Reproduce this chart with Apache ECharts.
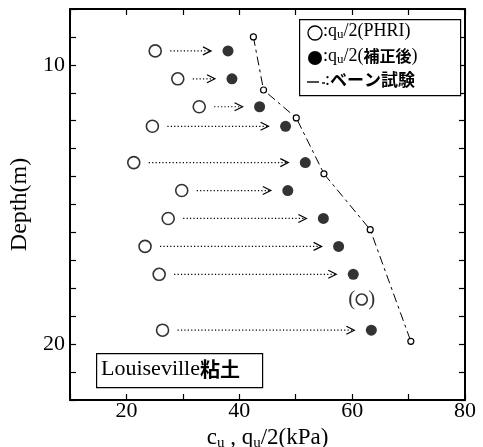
<!DOCTYPE html>
<html>
<head>
<meta charset="utf-8">
<script src="https://cdn.jsdelivr.net/npm/echarts@6/dist/echarts.min.js"></script>
<style>
  html, body { margin: 0; padding: 0; background: #fff; }
  #chart { width: 483px; height: 447px; }
</style>
</head>
<body>
<div id="chart"></div>
<script>
// depth (m) of each test pair
const depths = [9.5, 10.5, 11.5, 12.2, 13.5, 14.5, 15.5, 16.5, 17.5, 19.5];
// qu/2 (PHRI), open circles
const quPHRI = [25.1, 29.1, 32.9, 24.6, 21.3, 29.8, 27.4, 23.3, 25.8, 26.4];
// qu/2 corrected, filled circles
const quCorr = [38.0, 38.7, 43.6, 48.2, 51.7, 48.6, 54.9, 57.6, 60.2, 63.4];
// bracketed PHRI point
const bracketPoint = [61.7, 18.4];
// vane test
const vaneDepth = [9.0, 10.9, 11.9, 13.9, 15.9, 19.9];
const vaneCu = [42.5, 44.3, 50.1, 55.0, 63.2, 70.4];

const serif = '"Liberation Serif", "Times New Roman", serif';
const cjk = '"Noto Sans CJK JP", sans-serif';

const chart = echarts.init(document.getElementById('chart'));

const axisCommon = {
    axisLine: { show: true, onZero: false, lineStyle: { color: '#000', width: 2 } },
    axisTick: { show: true, inside: true, length: 6, lineStyle: { color: '#000', width: 1.2 } },
    splitLine: { show: false }
};

const option = {
    animation: false,
    backgroundColor: '#fff',
    grid: { left: 70, right: 18, top: 9, bottom: 47, outerBoundsMode: 'none', containLabel: false },
    xAxis: [
        Object.assign({
            type: 'value', min: 10, max: 80, interval: 10, position: 'bottom',
            name: '{t|c}{s|u}{t| , q}{s|u}{t|/2(kPa)}',
            nameLocation: 'middle', nameGap: 11,
            nameTextStyle: {
                rich: {
                    t: { fontFamily: serif, fontSize: 23, color: '#000' },
                    s: { fontFamily: serif, fontSize: 15, color: '#000', padding: [9, 0, 0, 0] }
                }
            },
            axisLabel: {
                color: '#000', fontFamily: serif, fontSize: 22, margin: 0,
                formatter: v => (v % 20 === 0 ? String(v) : '')
            }
        }, axisCommon),
        Object.assign({
            type: 'value', min: 10, max: 80, interval: 10, position: 'top',
            axisLabel: { show: false }
        }, axisCommon)
    ],
    yAxis: [
        Object.assign({
            type: 'value', min: 8, max: 22, interval: 1, inverse: true, position: 'left',
            name: 'Depth(m)', nameLocation: 'middle', nameGap: 34, nameRotate: 90,
            nameTextStyle: { fontFamily: serif, fontSize: 24, color: '#000' },
            axisLabel: {
                color: '#000', fontFamily: serif, fontSize: 22, margin: 5,
                formatter: v => (v === 10 || v === 20 ? String(v) : '')
            }
        }, axisCommon),
        Object.assign({
            type: 'value', min: 8, max: 22, interval: 1, inverse: true, position: 'right',
            axisLabel: { show: false }
        }, axisCommon)
    ],
    series: [
        {
            name: 'arrows',
            type: 'custom',
            silent: true,
            data: depths.map((d, i) => [quPHRI[i], quCorr[i], d]),
            renderItem: function (params, api) {
                const p1 = api.coord([api.value(0), api.value(2)]);
                const p2 = api.coord([api.value(1), api.value(2)]);
                const x1 = p1[0] + 15, x2 = p2[0] - 17, y = p1[1];
                return {
                    type: 'group',
                    children: [
                        {
                            type: 'line',
                            shape: { x1: x1, y1: y, x2: x2 - 1, y2: y },
                            style: { stroke: '#000', lineWidth: 1.2, lineDash: [1.2, 2.2] }
                        },
                        {
                            type: 'polyline',
                            shape: { points: [[x2 - 8, y - 4], [x2, y], [x2 - 8, y + 4]] },
                            style: { stroke: '#000', lineWidth: 1.2, fill: null }
                        }
                    ]
                };
            },
            z: 1
        },
        {
            name: 'vane',
            type: 'line',
            data: vaneCu.map((v, i) => [v, vaneDepth[i]]),
            symbol: 'circle',
            symbolSize: 6,
            itemStyle: { color: '#fff', borderColor: '#000', borderWidth: 1.2 },
            lineStyle: { color: '#000', width: 1, type: [9, 4, 3, 4] },
            z: 2
        },
        {
            name: 'PHRI',
            type: 'scatter',
            data: quPHRI.map((v, i) => [v, depths[i]]),
            symbol: 'circle',
            symbolSize: 12,
            itemStyle: { color: '#fff', borderColor: '#000', borderWidth: 1.6 },
            z: 3
        },
        {
            name: 'bracket',
            type: 'scatter',
            data: [bracketPoint],
            symbol: 'circle',
            symbolSize: 11,
            itemStyle: { color: '#fff', borderColor: '#000', borderWidth: 1.6 },
            label: {
                show: true, position: 'inside',
                formatter: '{p|(}{g|}{p|)}',
                rich: {
                    p: { fontFamily: serif, fontSize: 21, color: '#000' },
                    g: { width: 13 }
                }
            },
            z: 3
        },
        {
            name: 'corrected',
            type: 'scatter',
            data: quCorr.map((v, i) => [v, depths[i]]),
            symbol: 'circle',
            symbolSize: 11,
            itemStyle: { color: '#000' },
            z: 3
        }
    ],
    graphic: [
        // legend box
        {
            type: 'rect', left: 299, top: 19, z: 10,
            shape: { width: 161, height: 76 },
            style: { fill: '#fff', stroke: '#000', lineWidth: 1.2 }
        },
        {
            type: 'circle', z: 11,
            shape: { cx: 315, cy: 33, r: 7 },
            style: { fill: '#fff', stroke: '#000', lineWidth: 1.3 }
        },
        {
            type: 'circle', z: 11,
            shape: { cx: 315, cy: 58, r: 7 },
            style: { fill: '#000' }
        },
        {
            type: 'line', z: 11,
            shape: { x1: 307, y1: 82, x2: 319, y2: 82 },
            style: { stroke: '#000', lineWidth: 1.4 }
        },
        {
            type: 'line', z: 11,
            shape: { x1: 322, y1: 83, x2: 325, y2: 83 },
            style: { stroke: '#000', lineWidth: 1.4 }
        },
        {
            type: 'text', left: 323, top: 22, z: 11,
            style: {
                text: '{t|:q}{s|u}{t|/2(PHRI)}',
                rich: {
                    t: { fontFamily: serif, fontSize: 18, fill: '#000' },
                    s: { fontFamily: serif, fontSize: 13, fill: '#000', padding: [7, 0, 0, 0] }
                }
            }
        },
        {
            type: 'text', left: 323, top: 47, z: 11,
            style: {
                text: '{t|:q}{s|u}{t|/2(}{j|補正後}{t|)}',
                rich: {
                    t: { fontFamily: serif, fontSize: 18, fill: '#000' },
                    s: { fontFamily: serif, fontSize: 13, fill: '#000', padding: [7, 0, 0, 0] },
                    j: { fontFamily: cjk, fontSize: 16, fontWeight: 'bold', fill: '#000' }
                }
            }
        },
        {
            type: 'text', left: 325, top: 71, z: 11,
            style: {
                text: '{t|:}{j|ベーン試験}',
                rich: {
                    t: { fontFamily: serif, fontSize: 18, fill: '#000' },
                    j: { fontFamily: cjk, fontSize: 17, fontWeight: 'bold', fill: '#000' }
                }
            }
        },
        // site label box
        {
            type: 'rect', left: 96, top: 353, z: 10,
            shape: { width: 166, height: 34 },
            style: { fill: '#fff', stroke: '#000', lineWidth: 1.2 }
        },
        {
            type: 'text', left: 101, top: 358, z: 11,
            style: {
                text: '{t|Louiseville}{j|粘土}',
                rich: {
                    t: { fontFamily: serif, fontSize: 22, fill: '#000' },
                    j: { fontFamily: cjk, fontSize: 20, fontWeight: 'bold', fill: '#000' }
                }
            }
        }
    ]
};

chart.setOption(option);
</script>
</body>
</html>
